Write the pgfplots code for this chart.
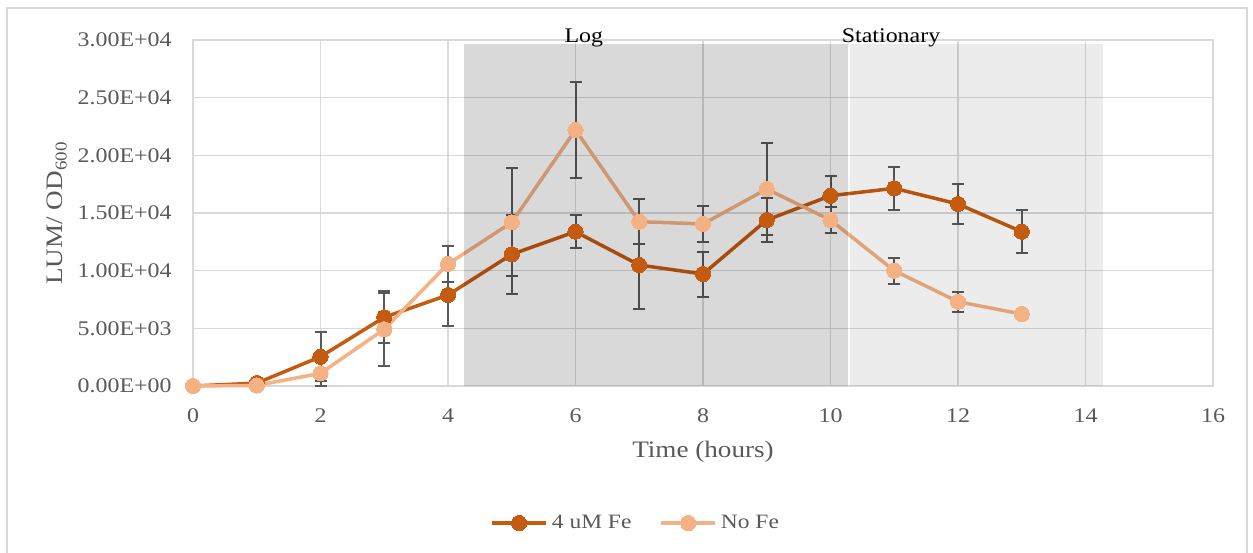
\documentclass[border=0pt]{standalone}
\usepackage{pgfplots}
\pgfplotsset{compat=1.18}
\usepackage{fontspec}
\setmainfont{Liberation Serif}[FakeStretch=1.15]
\definecolor{fe}{HTML}{C55A11}
\definecolor{nofe}{HTML}{F4B183}
\definecolor{txt}{HTML}{595959}
\definecolor{gridc}{HTML}{D9D9D9}
\definecolor{errc}{HTML}{595959}

\pgfplotstableread{
x y e
0 0 0
1 250 450
2 2540 2100
3 5960 2250
4 7890 2650
5 11420 3400
6 13380 1450
7 10490 3850
8 9710 1950
9 14390 1880
10 16500 1730
11 17140 1870
12 15780 1730
13 13380 1880
}\tabFe
\pgfplotstableread{
x y e
0 0 0
1 50 0
2 1100 1100
3 4920 3150
4 10580 1550
5 14190 4680
6 22200 4140
7 14250 1940
8 14050 1590
9 17080 3960
10 14390 1160
11 10000 1130
12 7310 870
13 6240 0
}\tabNoFe

\begin{document}
\begin{tikzpicture}[x=1pt,y=1pt]
\useasboundingbox (0,0) rectangle (626.5,-276);
\begin{scope}
\clip (0,0) rectangle (626.5,-276);
\draw[gridc, line width=0.75pt] (3.5,-4) rectangle (623.5,-290);
\end{scope}
\begin{axis}[
  at={(96.5pt,-193pt)}, anchor=south west,
  scale only axis, width=510pt, height=173pt,
  xmin=0, xmax=16, ymin=0, ymax=30000,
  xtick={0,2,...,16}, ytick={0,5000,...,30000},
  yticklabels={0.00E+00,5.00E+03,1.00E+04,1.50E+04,2.00E+04,2.50E+04,3.00E+04},
  scaled y ticks=false,
  /pgf/number format/assume math mode=true,
  grid=major, major grid style={gridc, line width=0.75pt},
  axis line style={gridc, line width=0.75pt},
  major tick length=0pt,
  ticklabel style={font=\fontsize{10.4}{12}\selectfont, text=txt},
  yticklabel style={inner sep=0pt, anchor=east, xshift=-10.5pt},
  xticklabel style={inner sep=0pt, anchor=north, yshift=-11pt},
  xlabel={Time (hours)},
  ylabel={LUM/ OD\textsubscript{600}},
  label style={font=\fontsize{11.8}{14}\selectfont, text=txt},
  xlabel style={at={(axis description cs:0.5,-0.19)}, anchor=center},
  ylabel style={at={(axis description cs:-0.1333,0.5)}, anchor=center},
  clip=false,
  legend columns=2,
  legend style={at={(axis description cs:0.435,-0.396)}, anchor=center,
    draw=none, fill=none, font=\fontsize{10.2}{12}\selectfont, text=txt,
    /tikz/every even column/.append style={column sep=12pt}},
  legend image code/.code={\draw[mark repeat=2,mark phase=2,#1] plot coordinates {(0pt,0pt) (13.5pt,0pt) (27pt,0pt)};},
]
\addplot[fe, line width=1.75pt, mark=*, mark size=3.8pt,
  mark options={fill=fe, draw=fe, line width=0pt},
  error bars/.cd, y dir=both, y explicit,
  error bar style={errc, line width=1pt},
  error mark options={rotate=90, errc, mark size=3pt, line width=1pt}]
  table[x=x, y=y, y error=e] {\tabFe};
\addlegendentry{4 uM Fe}
\addplot[nofe, line width=1.75pt, mark=*, mark size=3.8pt,
  mark options={fill=nofe, draw=nofe, line width=0pt},
  error bars/.cd, y dir=both, y explicit,
  error bar style={errc, line width=1pt},
  error mark options={rotate=90, errc, mark size=3pt, line width=1pt}]
  table[x=x, y=y, y error=e] {\tabNoFe};
\addlegendentry{No Fe}
\addplot[draw=none, fill=black, fill opacity=0.15, forget plot]
  coordinates {(4.25,0) (4.25,29650) (10.27,29650) (10.27,0)} -- cycle;
\addplot[draw=none, fill=black, fill opacity=0.075, forget plot]
  coordinates {(10.30,0) (10.30,29650) (14.27,29650) (14.27,0)} -- cycle;
\node[anchor=base, font=\fontsize{10.4}{12}\selectfont] at (axis cs:6.13,29770) {Log};
\node[anchor=base, font=\fontsize{10.4}{12}\selectfont] at (axis cs:10.95,29770) {Stationary};
\end{axis}
\end{tikzpicture}
\end{document}
